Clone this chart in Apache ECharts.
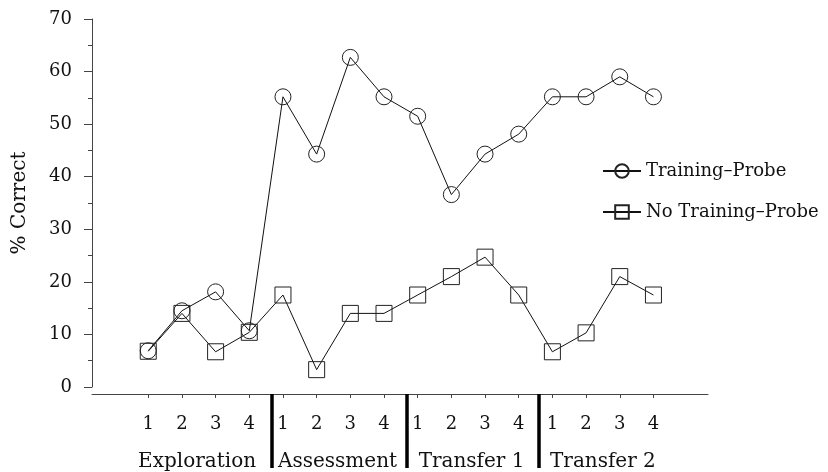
<!DOCTYPE html>
<html>
<head>
<meta charset="utf-8">
<script src="https://cdn.jsdelivr.net/npm/echarts@6/dist/echarts.min.js"></script>
<style>html,body{margin:0;padding:0;background:#fff}#c{width:828px;height:472px}</style>
</head>
<body>
<div id="c"></div>
<script>
// ---- data ----
var positions = [1,2,3,4,5,6,7,8,9,10,11,12,13,14,15,16];
var sessionLabels = ['1','2','3','4','1','2','3','4','1','2','3','4','1','2','3','4'];
var trainingProbe = [6.9, 14.5, 18.1, 10.7, 55.2, 44.3, 62.7, 55.2, 51.5, 36.6, 44.3, 48.1, 55.2, 55.2, 59.0, 55.2];
var noTrainingProbe = [6.8, 14.0, 6.7, 10.4, 17.5, 3.3, 14.0, 14.0, 17.5, 21.0, 24.7, 17.5, 6.7, 10.3, 21.0, 17.5];
var groupNames = ['Exploration', 'Assessment', 'Transfer 1', 'Transfer 2'];
var groupCenters = [2.45, 6.62, 10.6, 14.5];
var groupBoundaries = [4.67, 8.67, 12.6];
var yTicks = [0, 10, 20, 30, 40, 50, 60, 70];

function pairs(vals) { return positions.map(function (p, i) { return [p, vals[i]]; }); }

var FONT = 'DejaVu Serif';
var INK = '#111';

var chart = echarts.init(document.getElementById('c'), null, { renderer: 'canvas' });
chart.setOption({
  animation: false,
  backgroundColor: '#fff',
  grid: { left: 92, right: 120, top: 19, bottom: 85, outerBoundsMode: 'none', containLabel: false },
  legend: {
    orient: 'vertical',
    left: 597,
    top: 157,
    itemWidth: 38,
    itemHeight: 17,
    itemGap: 23,
    textStyle: { fontFamily: FONT, fontSize: 18, color: INK },
    data: ['Training\u2013Probe', 'No Training\u2013Probe']
  },
  xAxis: [{
    type: 'value',
    min: -0.67,
    max: 17.62,
    offset: 7,
    splitLine: { show: false },
    axisLine: { show: true, onZero: false, lineStyle: { color: '#444', width: 1 } },
    axisTick: { show: true, customValues: positions, length: 4, lineStyle: { color: '#444' } },
    axisLabel: {
      customValues: positions,
      margin: 21,
      fontFamily: FONT, fontSize: 18, color: INK,
      formatter: function (v) { return sessionLabels[Math.round(v) - 1]; }
    }
  }, {
    type: 'value',
    min: -0.67,
    max: 17.62,
    offset: 7,
    position: 'bottom',
    splitLine: { show: false },
    axisLine: { show: false, onZero: false },
    axisTick: { show: true, customValues: groupBoundaries, length: 74, lineStyle: { color: '#000', width: 3.5 } },
    axisLabel: {
      customValues: groupCenters,
      margin: 58,
      fontFamily: FONT, fontSize: 20, color: INK,
      formatter: function (v) {
        for (var i = 0; i < groupCenters.length; i++) if (Math.abs(groupCenters[i] - v) < 1e-6) return groupNames[i];
        return '';
      }
    }
  }],
  yAxis: {
    type: 'value',
    min: 0,
    max: 70,
    interval: 10,
    name: '% Correct',
    nameLocation: 'middle',
    nameGap: 62,
    nameTextStyle: { fontFamily: FONT, fontSize: 20, color: INK },
    splitLine: { show: false },
    axisLine: { show: true, onZero: false, lineStyle: { color: '#444', width: 1 } },
    axisTick: { show: true, length: 8, lineStyle: { color: '#444' } },
    minorTick: { show: true, splitNumber: 2, length: 4, lineStyle: { color: '#444' } },
    axisLabel: {
      margin: 20, fontFamily: FONT, fontSize: 18, color: INK,
      customValues: yTicks
    }
  },
  series: [{
    name: 'Training\u2013Probe',
    type: 'line',
    data: pairs(trainingProbe),
    symbol: 'circle',
    symbolSize: 16,
    lineStyle: { color: '#111', width: 1 },
    itemStyle: { color: 'rgba(255,255,255,0)', borderColor: '#222', borderWidth: 1 }
  }, {
    name: 'No Training\u2013Probe',
    type: 'line',
    data: pairs(noTrainingProbe),
    symbol: 'rect',
    symbolSize: 16,
    lineStyle: { color: '#111', width: 1 },
    itemStyle: { color: 'rgba(255,255,255,0)', borderColor: '#222', borderWidth: 1 }
  }]
});
</script>
</body>
</html>
